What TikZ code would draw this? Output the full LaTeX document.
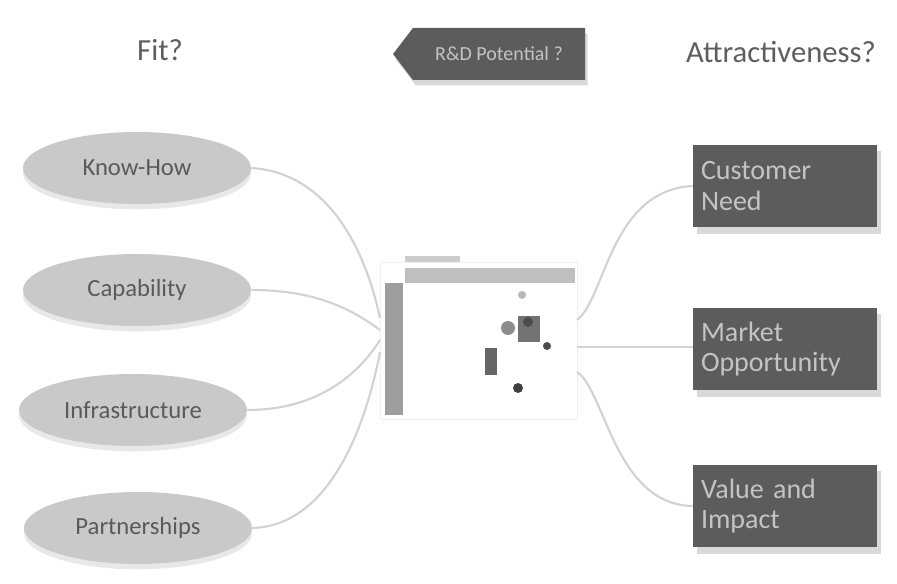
\documentclass[tikz,border=0pt]{standalone}
\usepackage{fontspec}
\setmainfont{Carlito}
\usetikzlibrary{shapes.geometric,shapes.symbols,shadows}
\definecolor{ellfill}{HTML}{C9C9C9}
\definecolor{elltext}{HTML}{5A5A5A}
\definecolor{boxfill}{HTML}{5C5C5C}
\definecolor{boxtext}{HTML}{C4C4C4}
\definecolor{conn}{HTML}{D2D2D2}
\definecolor{headtext}{HTML}{5E5E5E}
\tikzset{
  ell/.style={ellipse, fill=ellfill, draw=none, minimum width=171pt, minimum height=54pt,
    text=elltext, font=\fontsize{18.5}{22}\selectfont,
    drop shadow={opacity=0.18, shadow xshift=0pt, shadow yshift=-4pt}},
  rbox/.style={rectangle, fill=boxfill, draw=none, minimum width=138pt, minimum height=62pt,
    text width=126pt, align=left, text=boxtext, font=\fontsize{21}{23}\selectfont,
    drop shadow={opacity=0.3, shadow xshift=3pt, shadow yshift=-5pt}},
  head/.style={text=headtext, font=\fontsize{23}{26}\selectfont},
  link/.style={draw=conn, line width=1.6pt},
}
\begin{document}
\begin{tikzpicture}[x=0.75pt,y=-0.75pt]
\useasboundingbox (0,0) rectangle (897,584);
% headings
\node[head] (fit) at (160,50) {Fit?};
\node[head] (attr) at (781,52) {Attractiveness?};
\node[signal, signal to=west, signal pointer angle=105, fill=boxfill, minimum width=144pt, minimum height=39pt,
  text=boxtext, font=\fontsize{15}{17}\selectfont, inner sep=2pt,
  drop shadow={opacity=0.3, shadow xshift=2pt, shadow yshift=-4pt}] (rd) at (499,54) {R\&D Potential ?};
% left ellipses
\node[ell] (kh) at (137,168) {Know-How};
\node[ell] (cap) at (137,290) {Capability};
\node[ell] (inf) at (133,410) {Infrastructure};
\node[ell] (par) at (138,528) {Partnerships};
% right boxes
\node[rbox] (cn) at (785,186) {Customer\\Need};
\node[rbox] (mo) at (785,349) {Market\\Opportunity};
\node[rbox] (vi) at (785,506) {Value and\\Impact};
% central chart
\node[draw=black!6, fill=white, minimum width=148pt, minimum height=118pt, inner sep=0pt] (chart) at (479,341) {};
\fill[black!38] (385,283) rectangle (403,415);
\fill[black!25] (405,268) rectangle (575,283);
\fill[black!20] (405,256) rectangle (460,262);
\fill[black!28] (522,295) circle (4);
\fill[black!45] (508,328) circle (7);
\fill[black!55] (518,316) rectangle (540,342);
\fill[black!70] (528,322) circle (5);
\fill[black!70] (547,346) circle (4);
\fill[black!60] (485,348) rectangle (497,375);
\fill[black!75] (518,388) circle (5);
% connector end coordinates
\coordinate (l1) at (380,318);
\coordinate (l2) at (380,330);
\coordinate (l3) at (380,340);
\coordinate (l4) at (380,352);
\coordinate (r1) at (577,320);
\coordinate (r2) at (577,347);
\coordinate (r3) at (577,372);
% connectors left
\draw[link] (kh.east) .. controls (320,172) and (362,235) .. (l1);
\draw[link] (cap.east) .. controls (320,290) and (355,312) .. (l2);
\draw[link] (inf.east) .. controls (320,410) and (360,372) .. (l3);
\draw[link] (par.east) .. controls (330,526) and (366,425) .. (l4);
% connectors right
\draw[link] (r1) .. controls (605,300) and (610,190) .. (cn.west);
\draw[link] (r2) -- (r2 -| mo.west);
\draw[link] (r3) .. controls (605,390) and (615,505) .. (vi.west);
\end{tikzpicture}
\end{document}
